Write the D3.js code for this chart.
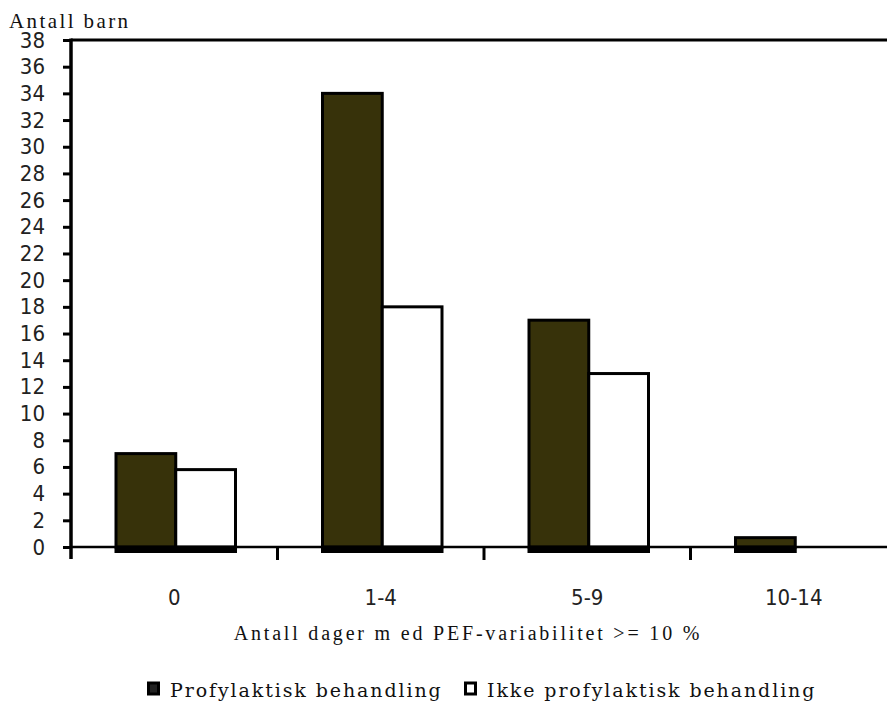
<!DOCTYPE html>
<html><head><meta charset="utf-8">
<script src="https://cdn.jsdelivr.net/npm/d3@7"></script>
<style>body{margin:0;background:#fff}svg{display:block}</style>
</head><body>
<svg id="c" width="887" height="717"></svg>
<script>
const categories = ["0", "1-4", "5-9", "10-14"];
const seriesNames = ["Profylaktisk behandling", "Ikke profylaktisk behandling"];
const profylaktisk = [7, 34, 17, 0.7];
const ikkeProfylaktisk = [5.8, 18, 13, 0];
const yTicks = d3.range(0, 39, 2);
const yTitle = "Antall barn";
const xTitle = "Antall dager m ed PEF-variabilitet >= 10 %";
const colors = ["#37320a", "#ffffff"];

(function () {
const svg = d3.select("#c");
const mLeft = 71, mTop = 40, mBottom = 547, bandW = 206.5;
const x = d3.scaleBand().domain(categories).range([mLeft, mLeft + bandW * 4]).paddingInner(0).paddingOuter(0);
const inner = d3.scaleBand().domain([0, 1]).range([45, bandW - 42]);
const y = d3.scaleLinear().domain([0, 38]).range([mBottom, mTop]);
const tickFont = "'DejaVu Sans Condensed','Liberation Sans Narrow',sans-serif";
const serif = "'Liberation Serif','Times New Roman',serif";

// bars
const series = [profylaktisk, ikkeProfylaktisk];
series.forEach((vals, si) => {
  const g = svg.append("g");
  g.selectAll("rect.bar").data(vals).join("rect").attr("class", "bar")
    .attr("x", (d, i) => x(categories[i]) + inner(si))
    .attr("y", d => y(d))
    .attr("width", inner.bandwidth())
    .attr("height", d => mBottom - y(d))
    .attr("fill", colors[si])
    .attr("stroke", "#000").attr("stroke-width", 3)
    .style("display", d => d > 0 ? null : "none");
  g.selectAll("rect.base").data(vals).join("rect").attr("class", "base")
    .attr("x", (d, i) => x(categories[i]) + inner(si) - 1.5)
    .attr("y", mBottom - 1)
    .attr("width", inner.bandwidth() + 3)
    .attr("height", 7)
    .attr("fill", "#000")
    .style("display", d => d > 0 ? null : "none");
});

// y title
svg.append("text").attr("x", 9).attr("y", 28).text(yTitle)
  .attr("font-family", serif).attr("font-size", 21).attr("letter-spacing", 2.4).attr("fill", "#111");

// y axis
const yAxis = d3.axisLeft(y).tickValues(yTicks).tickSize(8).tickPadding(18);
const ga = svg.append("g").attr("transform", `translate(${mLeft},0)`).call(yAxis);
ga.select(".domain").remove();
ga.selectAll(".tick line").attr("stroke", "#000").attr("stroke-width", 3);
ga.selectAll(".tick text").attr("font-family", tickFont).attr("font-size", 22).attr("fill", "#222");
svg.append("line").attr("x1", mLeft).attr("x2", mLeft).attr("y1", mTop - 1.5).attr("y2", mBottom + 12)
  .attr("stroke", "#000").attr("stroke-width", 3.5);

// top frame line
svg.append("line").attr("x1", mLeft).attr("x2", 887).attr("y1", mTop).attr("y2", mTop)
  .attr("stroke", "#000").attr("stroke-width", 3);

// x axis
const xAxis = d3.axisBottom(x).tickSize(0).tickPadding(42);
const gx = svg.append("g").attr("transform", `translate(0,${mBottom})`).call(xAxis);
gx.select(".domain").remove();
gx.selectAll(".tick text").attr("font-family", tickFont).attr("font-size", 22).attr("fill", "#222");
svg.append("line").attr("x1", mLeft).attr("x2", 887).attr("y1", mBottom).attr("y2", mBottom)
  .attr("stroke", "#000").attr("stroke-width", 2.5);
svg.selectAll("line.xt").data(categories.slice(1)).join("line").attr("class", "xt")
  .attr("x1", d => x(d)).attr("x2", d => x(d))
  .attr("y1", mBottom).attr("y2", mBottom + 13)
  .attr("stroke", "#000").attr("stroke-width", 3);

// x title
svg.append("text").attr("x", 468).attr("y", 640).attr("text-anchor", "middle").text(xTitle)
  .attr("font-family", serif).attr("font-size", 20).attr("letter-spacing", 2.8).attr("fill", "#111");

// legend
const legendFont = "'DejaVu Serif',serif";
const leg = [{x: 147, tx: 170}, {x: 464, tx: 487}];
seriesNames.forEach((n, i) => {
  svg.append("rect").attr("x", leg[i].x + 1.5).attr("y", 683).attr("width", 10).attr("height", 11)
    .attr("fill", i === 0 ? "#222" : "#fff").attr("stroke", "#000").attr("stroke-width", 3);
  svg.append("text").attr("x", leg[i].tx).attr("y", 697).text(n)
    .attr("font-family", legendFont).attr("font-size", 19).attr("letter-spacing", 1.9).attr("fill", "#111");
});
})();
</script>
</body></html>
